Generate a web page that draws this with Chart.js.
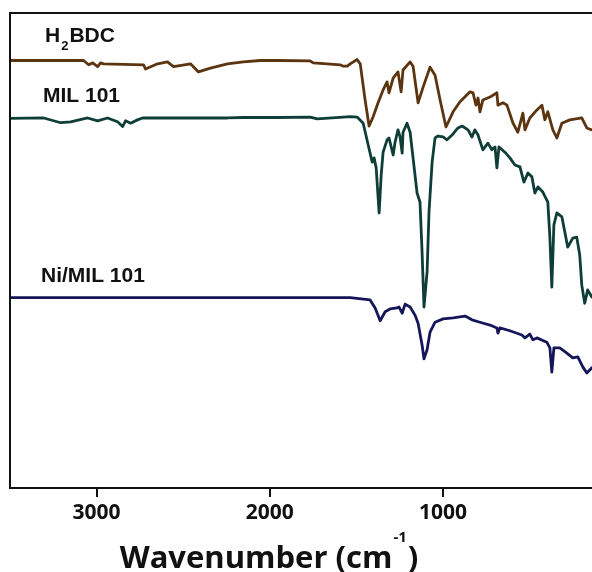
<!DOCTYPE html>
<html><head><meta charset="utf-8">
<script src="https://cdn.jsdelivr.net/npm/chart.js@4/dist/chart.umd.min.js"></script>
<style>html,body{margin:0;padding:0;background:#fff;}</style>
</head><body>
<canvas id="c" width="592" height="572"></canvas>
<script>
// Axis (wavenumber, cm-1), reversed
const xMin = 140, xMax = 3500;
const xTicks = [3000, 2000, 1000];
const seriesNames = ['H2BDC', 'MIL 101', 'Ni/MIL 101'];

// H2BDC
const h2bdcWn  = [3500,3075,3046,3023,2994,2977,2960,2729,2718,2648,2591,2556,2458,2412,2343,2245,2153,2055,1957,1767,1749,1669,1594,1576,1553,1536,1496,1478,1450,1427,1404,1375,1346,1323,1312,1288,1260,1242,1231,1190,1173,1144,1115,1075,1046,1017,983,942,902,844,827,810,798,787,770,729,689,683,654,631,596,568,539,527,499,458,429,412,395,366,343,314,268,199,170,141];
const h2bdcVal = [90.0,90.0,89.1,89.5,88.7,89.5,89.3,89.1,88.2,89.3,89.7,88.7,89.3,87.6,88.4,89.3,89.7,90.0,90.0,89.9,89.5,89.3,89.1,88.8,88.8,89.3,90.2,89.3,81.7,76.2,78.1,81.1,83.8,85.5,83.2,86.3,87.6,83.4,88.0,89.7,88.8,81.1,84.4,88.6,86.9,81.7,76.0,79.2,81.3,83.4,83.2,80.6,82.1,79.2,81.7,82.3,83.2,80.6,81.1,80.6,76.8,74.9,78.9,75.4,77.9,79.6,80.6,77.5,79.2,75.4,73.7,76.8,77.5,77.9,75.8,75.4];

// MIL 101
const milWn  = [3500,3305,3207,3150,3052,2994,2937,2879,2850,2833,2804,2764,2735,2245,2153,1957,1767,1726,1576,1536,1496,1461,1432,1409,1398,1386,1369,1357,1346,1323,1312,1288,1277,1260,1248,1236,1231,1208,1190,1173,1150,1133,1121,1110,1092,1081,1063,1046,1029,1000,977,948,914,890,856,833,816,798,770,741,718,700,689,677,643,614,585,556,533,510,487,470,452,424,395,383,372,360,343,314,297,280,251,228,211,199,182,165,141];
const milVal = [77.8,77.9,76.9,77.1,77.9,77.3,77.9,77.1,76.1,77.3,76.8,77.5,77.9,77.9,78.0,78.0,78.1,77.7,78.1,78.2,78.1,76.8,72.2,68.6,69.5,67.4,57.9,65.9,70.7,73.3,73.7,70.1,72.8,75.4,73.9,70.5,74.9,76.8,74.9,69.5,62.1,60.2,49.7,38.1,45.5,58.1,68.6,73.7,74.1,73.9,73.3,74.3,75.8,76.2,75.4,73.9,75.4,74.3,71.2,72.6,71.2,71.8,67.4,71.8,70.7,69.5,68.0,67.6,64.4,66.3,65.5,62.1,63.4,62.3,60.2,52.6,42.3,55.4,57.9,57.1,53.9,50.7,52.6,52.8,49.1,42.7,38.9,41.7,40.2];

// Ni/MIL 101
const niWn  = [3500,1536,1421,1392,1363,1334,1306,1265,1254,1236,1219,1190,1162,1144,1121,1110,1092,1075,1046,1000,942,873,833,787,729,689,683,672,614,545,527,499,481,458,401,383,372,360,326,285,251,222,193,170,141];
const niVal = [40.1,40.1,39.6,37.9,35.2,37.1,37.7,37.9,38.1,36.8,38.7,38.1,36.4,34.7,30.1,27.2,29.1,32.8,34.9,35.6,35.8,36.2,35.4,34.9,34.3,33.7,32.6,33.7,33.1,32.2,31.6,32.4,31.2,31.6,30.7,29.5,24.4,29.5,29.5,28.4,27.4,27.6,25.5,24.2,25.3];

const pts = (xs, ys) => xs.map((x, i) => ({x, y: ys[i]}));

const frame = {
  id: 'frame',
  afterDraw(chart) {
    const {ctx, chartArea: a} = chart;
    ctx.save();
    ctx.strokeStyle = '#111'; ctx.lineWidth = 2;
    ctx.beginPath();
    ctx.moveTo(a.left, a.bottom + 1); ctx.lineTo(a.left, a.top); ctx.lineTo(a.right, a.top);
    ctx.stroke();
    // series labels
    ctx.fillStyle = '#111'; ctx.textAlign = 'left'; ctx.textBaseline = 'alphabetic';
    ctx.font = 'bold 21px "Liberation Sans", Arial, sans-serif';
    ctx.fillText('H', a.left + 35, 42);
    const wH = ctx.measureText('H').width;
    ctx.font = 'bold 13px "Liberation Sans", Arial, sans-serif';
    ctx.fillText('2', a.left + 35 + wH + 1, 50);
    const w2 = ctx.measureText('2').width;
    ctx.font = 'bold 21px "Liberation Sans", Arial, sans-serif';
    ctx.fillText('BDC', a.left + 35 + wH + w2 + 2, 42);
    ctx.fillText(seriesNames[1], a.left + 33, 102);
    ctx.fillText(seriesNames[2], a.left + 31, 282);
    // axis title with superscript
    const main = 'Wavenumber (cm', sup = '-1', tail = ')';
    ctx.font = 'bold 31px "Open Sans", sans-serif';
    const wm = ctx.measureText(main).width, wt = ctx.measureText(tail).width;
    ctx.font = 'bold 15px "Open Sans", sans-serif';
    const ws = ctx.measureText(sup).width;
    const total = wm + ws + wt + 2;
    let x0 = 269 - total / 2;
    ctx.font = 'bold 31px "Open Sans", sans-serif';
    ctx.fillText(main, x0, 568);
    ctx.font = 'bold 15px "Open Sans", sans-serif';
    ctx.fillText(sup, x0 + wm + 1, 542);
    ctx.font = 'bold 31px "Open Sans", sans-serif';
    ctx.fillText(tail, x0 + wm + ws + 2, 568);
    ctx.restore();
  }
};

new Chart(document.getElementById('c'), {
  type: 'line',
  data: {
    datasets: [
      {label: seriesNames[0], data: pts(h2bdcWn, h2bdcVal), borderColor: '#5b3410', borderWidth: 2.8},
      {label: seriesNames[1], data: pts(milWn, milVal), borderColor: '#0f3d37', borderWidth: 2.8},
      {label: seriesNames[2], data: pts(niWn, niVal), borderColor: '#15165a', borderWidth: 2.8}
    ]
  },
  options: {
    responsive: false,
    animation: false,
    devicePixelRatio: 1,
    layout: {padding: {left: 10, top: 13, right: 0, bottom: 0}},
    elements: {point: {radius: 0}, line: {tension: 0, borderJoinStyle: 'round', borderCapStyle: 'round'}},
    plugins: {legend: {display: false}, tooltip: {enabled: false}},
    scales: {
      x: {
        type: 'linear', reverse: true, min: xMin, max: xMax,
        afterBuildTicks: s => { s.ticks = xTicks.map(v => ({value: v})); },
        afterFit: s => { s.height = 84; },
        border: {display: true, color: '#111', width: 2},
        grid: {display: true, drawOnChartArea: false, drawTicks: true, tickLength: 9, color: '#111', lineWidth: 2},
        ticks: {color: '#111', font: {family: '"Open Sans", sans-serif', size: 21, weight: 'bold'}, padding: 3, maxRotation: 0,
                callback: v => String(v)}
      },
      y: {display: false, min: 0, max: 100}
    }
  },
  plugins: [frame]
});
</script>
</body></html>
